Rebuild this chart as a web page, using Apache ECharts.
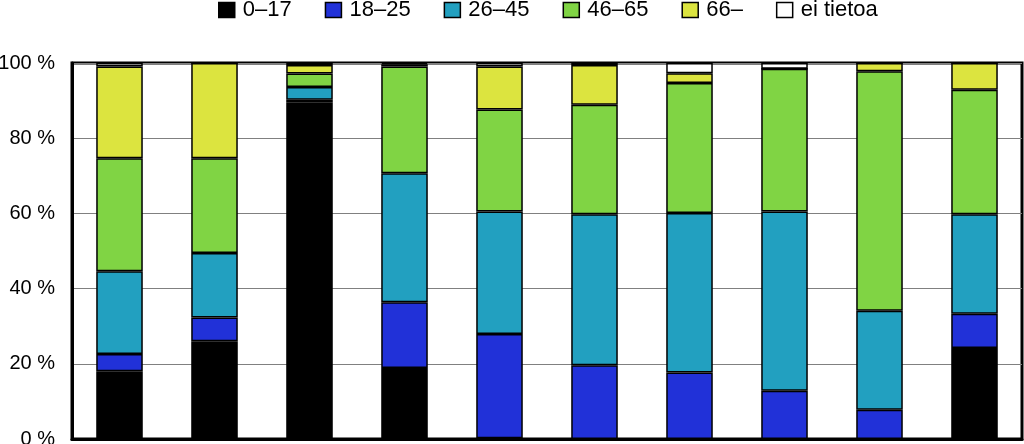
<!DOCTYPE html>
<html>
<head>
<meta charset="utf-8">
<script src="https://cdn.jsdelivr.net/npm/echarts@6/dist/echarts.min.js"></script>
<style>html,body{margin:0;padding:0;background:#fff}#c{width:1024px;height:444px}</style>
</head>
<body>
<div id="c"></div>
<script>
const categories = ['1','2','3','4','5','6','7','8','9','10'];
const seriesNames = ['0–17','18–25','26–45','46–65','66–','ei tietoa'];
const v0_17  = [18.0, 26.0, 89.4, 18.9, 0.2, 0,    0,    0,    0,    24.2];
const v18_25 = [4.6,  6.3,  0.8,  17.5, 27.7,19.6, 17.7, 12.8, 7.8,  9.1];
const v26_45 = [22.0, 17.2, 3.4,  34.3, 32.6,40.2, 42.4, 47.7, 26.3, 26.5];
const v46_65 = [30.1, 25.2, 3.6,  28.4, 27.1,29.1, 34.6, 38.0, 63.7, 33.1];
const v66    = [24.4, 25.3, 2.3,  0.6,  11.5,10.6, 2.6,  0,    2.2,  7.1];
const vEi    = [0.9,  0,    0.5,  0.3,  0.9, 0.5,  2.7,  1.5,  0,    0];
const yTicks = [0, 20, 40, 60, 80, 100];

const colors = ['#000000','#2131d8','#22a0c0','#80d444','#dce43f','#ffffff'];
const values = [v0_17, v18_25, v26_45, v46_65, v66, vEi];

const chart = echarts.init(document.getElementById('c'));
chart.setOption({
  animation: false,
  textStyle: {fontFamily: 'Liberation Sans, Arial, sans-serif'},
  legend: {
    top: -1, left: 218, padding: 0,
    itemWidth: 16, itemHeight: 15, itemGap: 33,
    icon: 'rect',
    textStyle: {fontSize: 22, color: '#000', fontFamily: 'Liberation Sans', padding: [0, 0, 0, 3]},
    data: seriesNames.map((n, i) => ({name: n, itemStyle: {color: colors[i], borderColor: '#000', borderWidth: 1.5}}))
  },
  grid: {left: 72, right: 2, top: 63, bottom: 5, outerBoundsMode: 'none', containLabel: false,
         show: true, borderColor: '#000', borderWidth: 3, backgroundColor: 'transparent'},
  xAxis: {
    type: 'category', data: categories,
    axisLabel: {show: false}, axisTick: {show: false},
    axisLine: {show: true, lineStyle: {color: '#000', width: 3}}
  },
  yAxis: {
    type: 'value', min: yTicks[0], max: yTicks[yTicks.length-1], interval: 20,
    axisLabel: {formatter: '{value} %', fontSize: 20, color: '#000', margin: 17, fontFamily: 'Liberation Sans'},
    axisLine: {show: true, lineStyle: {color: '#000', width: 3}},
    axisTick: {show: false},
    splitLine: {lineStyle: {color: '#808080', width: 1}}
  },
  series: seriesNames.map((n, i) => ({
    name: n, type: 'bar', stack: 'total', barWidth: '49%',
    data: values[i],
    itemStyle: {color: colors[i], borderColor: '#000', borderWidth: 1.5}
  }))
});
</script>
</body>
</html>
